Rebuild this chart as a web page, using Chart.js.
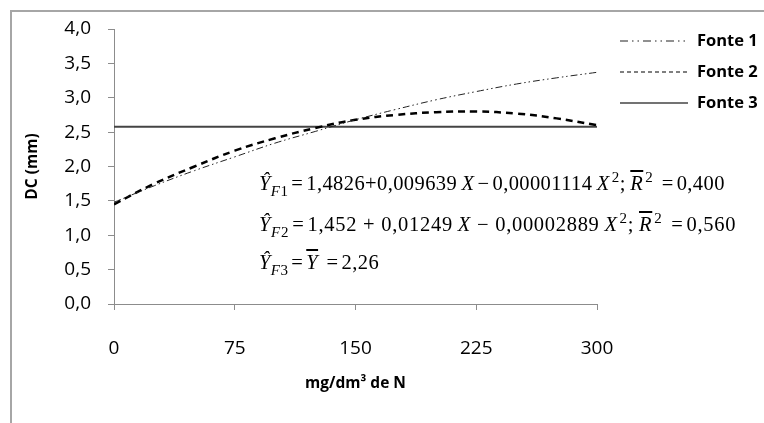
<!DOCTYPE html>
<html>
<head>
<meta charset="utf-8">
<script src="https://cdn.jsdelivr.net/npm/chart.js@4/dist/chart.umd.min.js"></script>
<style>
  body { margin: 0; background: #fff; overflow: hidden; }
  #wrap { position: relative; width: 764px; height: 423px; }
  #frame { position: absolute; left: 10px; top: 10px; width: 800px; height: 500px;
           border: 2px solid #a6a6a6; box-sizing: border-box; }
  .eq { position: absolute; left: 259px; font-family: "Liberation Serif", serif;
        font-size: 20.5px; line-height: 22px; letter-spacing: 0.4px; color: #000; white-space: nowrap; }
  .eq sub, .eq sup { font-size: 15px; line-height: 0; }
  .eq sub { vertical-align: -6px; }
  .eq sup { vertical-align: 8px; margin-left: 2px; }
  .ov { text-decoration: overline; }
  .op { margin: 0 3px; }
  .op2 { margin: 0 6px; }
</style>
</head>
<body>
<div id="wrap">
  <div id="frame"></div>
  <canvas id="c" width="764" height="423"></canvas>
  <div class="eq" style="top:172px"><i>Ŷ</i><sub><i>F</i>1</sub><span class="op">=</span>1,4826+0,009639&thinsp;<i>X</i><span class="op">−</span>0,00001114&thinsp;<i>X</i><sup>2</sup>;&thinsp;<i class="ov">R</i><sup>2</sup><span class="op">&nbsp;=</span>0,400</div>
  <div class="eq" style="top:213px; letter-spacing:0.7px"><i>Ŷ</i><sub><i>F</i>2</sub><span class="op">=</span>1,452<span class="op2">+</span>0,01249&thinsp;<i>X</i><span class="op2">−</span>0,00002889&thinsp;<i>X</i><sup>2</sup>;&thinsp;<i class="ov">R</i><sup>2</sup><span class="op">&nbsp;=</span>0,560</div>
  <div class="eq" style="top:251px"><i>Ŷ</i><sub><i>F</i>3</sub><span class="op">=</span><i class="ov">Y</i><span class="op">&nbsp;=</span>2,26</div>
</div>
<script>
// mg/dm3 de N
const doses = [0, 25, 50, 75, 100, 125, 150, 175, 200, 225, 250, 275, 300];
const fonte1 = [1.48, 1.72, 1.94, 2.14, 2.34, 2.51, 2.68, 2.83, 2.97, 3.09, 3.20, 3.29, 3.37];
const fonte2 = [1.45, 1.75, 2.00, 2.23, 2.41, 2.56, 2.68, 2.75, 2.79, 2.80, 2.77, 2.70, 2.60];
const fonte3 = [2.58, 2.58, 2.58, 2.58, 2.58, 2.58, 2.58, 2.58, 2.58, 2.58, 2.58, 2.58, 2.58];
const seriesNames = ['Fonte 1', 'Fonte 2', 'Fonte 3'];
const xTicks = [0, 75, 150, 225, 300];

const axisGray = '#8c8c8c';
const tickFont = { family: 'Open Sans', size: 19 };
const titleFont = { family: 'Open Sans', size: 15.5, weight: 'bold' };

function pts(ys) {
    return doses.map((x, i) => ({ x: x, y: ys[i] }));
}

// legend drawn at the right, like the excel one
const sideLegend = {
    id: 'sideLegend',
    afterDraw(chart) {
        const ctx = chart.ctx;
        ctx.save();
        chart.data.datasets.forEach((ds, i) => {
            const y = 41 + i * 31;
            ctx.beginPath();
            ctx.strokeStyle = ds.borderColor;
            ctx.lineWidth = ds.legendWidth;
            ctx.setLineDash(ds.legendDash);
            ctx.moveTo(620, y);
            ctx.lineTo(688, y);
            ctx.stroke();
            ctx.setLineDash([]);
            ctx.fillStyle = '#000';
            ctx.font = 'bold 16.5px "Open Sans"';
            ctx.textBaseline = 'middle';
            ctx.fillText(ds.label, 697, y);
        });
        ctx.restore();
    }
};

new Chart(document.getElementById('c'), {
    type: 'line',
    data: {
        datasets: [
            {
                label: seriesNames[0],
                data: pts(fonte1),
                borderColor: '#222',
                borderWidth: 1,
                borderDash: [7, 3, 1.5, 3, 1.5, 3],
                legendDash: [8, 4, 1.5, 4, 1.5, 4],
                legendWidth: 1.2,
                pointRadius: 0,
                tension: 0.4,
                fill: false
            },
            {
                label: seriesNames[1],
                data: pts(fonte2),
                borderColor: '#000',
                borderWidth: 2.5,
                borderDash: [7, 5],
                legendDash: [4, 3],
                legendWidth: 1.2,
                pointRadius: 0,
                tension: 0.4,
                fill: false
            },
            {
                label: seriesNames[2],
                data: pts(fonte3),
                borderColor: '#444',
                borderWidth: 2,
                legendDash: [],
                legendWidth: 1.5,
                pointRadius: 0,
                tension: 0,
                fill: false
            }
        ]
    },
    options: {
        responsive: false,
        animation: false,
        layout: { padding: { left: 13, top: 29, right: 167, bottom: 0 } },
        plugins: {
            legend: { display: false },
            tooltip: { enabled: false }
        },
        scales: {
            x: {
                type: 'linear',
                min: 0,
                max: 300,
                afterBuildTicks: s => { s.ticks = xTicks.map(v => ({ value: v })); },
                afterFit: s => { s.height = 119; },
                grid: { drawOnChartArea: false, tickLength: 6, color: axisGray },
                border: { color: axisGray, width: 1 },
                ticks: { color: '#000', font: tickFont, padding: 27, maxRotation: 0 },
                title: { display: true, text: 'mg/dm³ de N', color: '#000', font: titleFont,
                         padding: { top: 0, bottom: 30 } }
            },
            y: {
                min: 0,
                max: 4,
                afterFit: s => { s.width = 101; },
                grid: { drawOnChartArea: false, tickLength: 6, color: axisGray },
                border: { color: axisGray, width: 1 },
                ticks: {
                    stepSize: 0.5,
                    color: '#000',
                    font: tickFont,
                    padding: 17,
                    callback: v => v.toFixed(1).replace('.', ',')
                },
                title: { display: true, text: 'DC (mm)', color: '#000', font: titleFont,
                         padding: { top: 10, bottom: 0 } }
            }
        }
    },
    plugins: [sideLegend]
});
</script>
</body>
</html>
